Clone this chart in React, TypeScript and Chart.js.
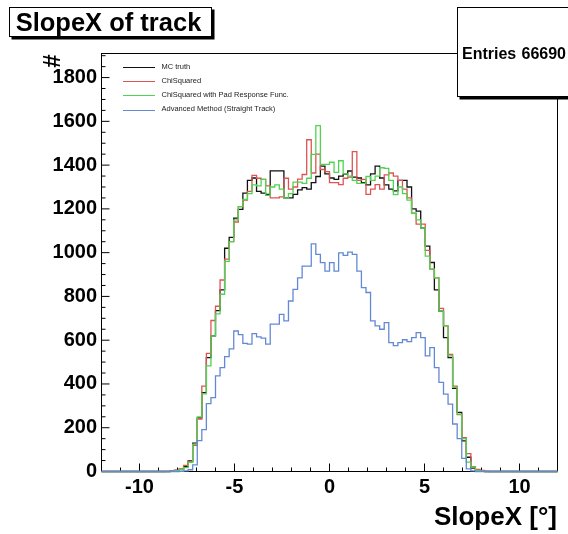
import React, { useEffect, useRef } from 'react';
import { Chart, registerables } from 'chart.js';

Chart.register(...registerables);

// ---- histogram definition ----
const X_MIN = -12;
const X_MAX = 12;
const N_BINS = 100;
const BIN_W = (X_MAX - X_MIN) / N_BINS;
const Y_MAX = 1910;
const FIRST_BIN = 14; // bin index of the first value in each series below

// ---- series values (bins 14 .. 84) ----
const mcTruth = [
  0, 2, 5, 10, 22, 48, 130, 245, 360, 520, 620, 735, 830, 1020, 1070, 1158, 1198, 1272, 1330, 1341,
  1280, 1272, 1266, 1374, 1374, 1374, 1250, 1250, 1266, 1287, 1297, 1290, 1320, 1348, 1395, 1360, 1341,
  1335, 1350, 1359, 1373, 1345, 1341, 1320, 1310, 1360, 1395, 1341, 1310, 1290, 1282, 1330, 1330, 1300,
  1200, 1190, 1113, 1030, 955, 830, 733, 612, 520, 380, 270, 140, 65, 15, 5, 1, 0,
];
const chiSquared = [
  1, 3, 6, 12, 28, 45, 120, 240, 390, 540, 690, 755, 875, 970, 1050, 1140, 1210, 1240, 1280, 1353,
  1340, 1335, 1305, 1250, 1250, 1255, 1340, 1290, 1300, 1336, 1357, 1516, 1364, 1450, 1380, 1370, 1320,
  1320, 1311, 1340, 1345, 1462, 1330, 1335, 1266, 1290, 1311, 1290, 1355, 1364, 1350, 1330, 1290, 1250,
  1180, 1130, 1130, 1010, 925, 885, 745, 665, 535, 390, 260, 155, 82, 22, 10, 5, 2,
];
const chiSquaredPRF = [
  0, 1, 4, 8, 18, 42, 125, 250, 355, 483, 620, 720, 810, 960, 1050, 1150, 1210, 1243, 1270, 1310,
  1305, 1335, 1262, 1300, 1310, 1290, 1250, 1270, 1322, 1322, 1317, 1340, 1449, 1580, 1403, 1403, 1413,
  1367, 1420, 1360, 1350, 1330, 1317, 1317, 1348, 1330, 1350, 1388, 1385, 1330, 1265, 1300, 1270, 1240,
  1180, 1150, 1113, 984, 925, 885, 733, 665, 528, 384, 262, 150, 43, 20, 5, 2, 0,
];
const advancedMethod = [
  0, 0, 0, 1, 3, 8, 30, 141, 191, 310, 338, 437, 475, 525, 560, 642, 625, 585, 582, 630,
  615, 609, 582, 673, 673, 718, 688, 779, 832, 885, 938, 938, 1040, 992, 954, 916, 954,
  916, 999, 988, 1002, 992, 916, 840, 818, 688, 665, 650, 680, 589, 575, 589, 602, 593,
  612, 635, 612, 528, 566, 475, 407, 354, 308, 217, 150, 60, 12, 3, 0, 0, 0,
];

const seriesNames = [
  'MC truth',
  'ChiSquared',
  'ChiSquared with Pad Response Func.',
  'Advanced Method (Straight Track)',
];
const seriesValues = [mcTruth, chiSquared, chiSquaredPRF, advancedMethod];
const seriesColors = ['#111111', '#dd5454', '#50d450', '#6489d4'];

const xMajorTicks = [-10, -5, 0, 5, 10];
const yMajorTicks = [0, 200, 400, 600, 800, 1000, 1200, 1400, 1600, 1800];
const X_MINOR_STEP = 1;
const Y_MINOR_STEP = 50;

const TITLE = 'SlopeX of track';
const X_TITLE = 'SlopeX [°]';
const Y_TITLE = '#';
const ENTRIES = 66690;

const FONT = '"Liberation Sans", Arial, Helvetica, sans-serif';

function toSteps(vals: number[]) {
  const pts: { x: number; y: number }[] = [];
  for (let k = 0; k < N_BINS; k++) {
    const i = k - FIRST_BIN;
    const v = i >= 0 && i < vals.length ? vals[i] : 0;
    pts.push({ x: X_MIN + k * BIN_W, y: v });
  }
  pts.push({ x: X_MAX, y: pts[pts.length - 1].y });
  return pts;
}

const frameTicks = {
  id: 'frameTicks',
  beforeDatasetsDraw(chart: any) {
    const { ctx, chartArea: a, scales } = chart;
    const x = scales.x;
    const y = scales.y;
    ctx.save();
    ctx.strokeStyle = '#000';
    ctx.lineWidth = 1;
    ctx.strokeRect(a.left, a.top, a.right - a.left, a.bottom - a.top);
    ctx.beginPath();
    for (let v = X_MIN + X_MINOR_STEP; v < X_MAX; v += X_MINOR_STEP) {
      const px = x.getPixelForValue(v);
      const len = xMajorTicks.includes(v) ? 8 : 4;
      ctx.moveTo(px, a.bottom);
      ctx.lineTo(px, a.bottom - len);
    }
    for (let v = Y_MINOR_STEP; v < Y_MAX; v += Y_MINOR_STEP) {
      const py = y.getPixelForValue(v);
      const len = yMajorTicks.includes(v) ? 8 : 4;
      ctx.moveTo(a.left, py);
      ctx.lineTo(a.left + len, py);
    }
    ctx.stroke();
    ctx.restore();
  },
};

const AREA_LEFT = 101.5;
const AREA_TOP = 53.5;
const AREA_RIGHT = 557.5;
const AREA_BOTTOM = 471.5;
const W = 568;
const H = 534;

export default function App() {
  const ref = useRef<HTMLCanvasElement | null>(null);

  useEffect(() => {
    if (!ref.current) return;
    const order = [4, 3, 2, 1];
    const chart = new Chart(ref.current, {
      type: 'line',
      data: {
        datasets: seriesValues.map((vals, i) => ({
          label: seriesNames[i],
          data: toSteps(vals),
          borderColor: seriesColors[i],
          backgroundColor: seriesColors[i],
          borderWidth: 1.3,
          pointRadius: 0,
          pointHoverRadius: 0,
          stepped: true,
          fill: false,
          tension: 0,
          clip: false as any,
          order: order[i],
        })),
      },
      options: {
        responsive: false,
        animation: false,
        events: [],
        parsing: false,
        layout: {
          padding: { left: 0, top: AREA_TOP, right: W - AREA_RIGHT, bottom: 0 },
        },
        plugins: {
          legend: { display: false },
          tooltip: { enabled: false },
          title: { display: false },
        },
        scales: {
          x: {
            type: 'linear',
            min: X_MIN,
            max: X_MAX,
            grid: { display: false, drawTicks: false },
            border: { display: false },
            afterFit: (s: any) => {
              s.height = H - AREA_BOTTOM;
            },
            afterBuildTicks: (s: any) => {
              s.ticks = xMajorTicks.map((v) => ({ value: v }));
            },
            ticks: {
              autoSkip: false,
              maxRotation: 0,
              padding: 4,
              color: '#000',
              callback: (v: any) => String(v),
              font: { family: FONT, size: 20, weight: 'bold' },
            },
          },
          y: {
            type: 'linear',
            min: 0,
            max: Y_MAX,
            grid: { display: false, drawTicks: false },
            border: { display: false },
            afterFit: (s: any) => {
              s.width = AREA_LEFT;
            },
            afterBuildTicks: (s: any) => {
              s.ticks = yMajorTicks.map((v) => ({ value: v }));
            },
            ticks: {
              autoSkip: false,
              padding: 4.5,
              color: '#000',
              callback: (v: any) => String(v),
              font: { family: FONT, size: 20, weight: 'bold' },
            },
          },
        },
      },
      plugins: [frameTicks],
    } as any);
    return () => chart.destroy();
  }, []);

  const legendY0 = 67.3;
  const legendDy = 14.3;

  return (
    <div
      style={{
        position: 'absolute',
        left: 0,
        top: 0,
        width: W,
        height: H,
        overflow: 'hidden',
        background: '#fff',
        fontFamily: FONT,
        color: '#000',
      }}
    >
      <canvas ref={ref} width={W} height={H} style={{ position: 'absolute', left: 0, top: 0, width: W, height: H }} />

      {/* title box */}
      <div
        style={{
          position: 'absolute',
          left: 8.7,
          top: 7.3,
          width: 203.6,
          height: 29.4,
          boxSizing: 'border-box',
          border: '1px solid #000',
          background: '#fff',
          boxShadow: '2.5px 2.5px 0 #000',
        }}
      >
        <span
          style={{
            position: 'absolute',
            left: 6,
            top: 1.5,
            fontSize: 25.5,
            lineHeight: '25px',
            fontWeight: 'bold',
            whiteSpace: 'nowrap',
          }}
        >
          {TITLE}
        </span>
      </div>

      {/* stats box */}
      <div
        style={{
          position: 'absolute',
          left: 456.7,
          top: 6.7,
          width: 140,
          height: 90.5,
          boxSizing: 'border-box',
          border: '1px solid #000',
          background: '#fff',
          boxShadow: '2.5px 2.5px 0 #000',
        }}
      />
      <span
        style={{
          position: 'absolute',
          left: 462,
          top: 45.5,
          fontSize: 16,
          lineHeight: '16px',
          fontWeight: 'bold',
          whiteSpace: 'nowrap',
        }}
      >
        Entries
      </span>
      <span
        style={{
          position: 'absolute',
          right: W - 566,
          top: 45.5,
          fontSize: 16,
          lineHeight: '16px',
          fontWeight: 'bold',
          whiteSpace: 'nowrap',
        }}
      >
        {String(ENTRIES)}
      </span>

      {/* legend */}
      {seriesNames.map((name, i) => {
        const y = legendY0 + i * legendDy;
        return (
          <React.Fragment key={name}>
            <div
              style={{
                position: 'absolute',
                left: 123,
                top: y - 0.65,
                width: 32,
                height: 0,
                borderTop: `1.3px solid ${seriesColors[i]}`,
              }}
            />
            <span
              style={{
                position: 'absolute',
                left: 161.5,
                top: y - 5.8,
                fontSize: 7.5,
                lineHeight: '9px',
                color: '#222',
                whiteSpace: 'nowrap',
              }}
            >
              {name}
            </span>
          </React.Fragment>
        );
      })}

      {/* y axis title */}
      <span
        style={{
          position: 'absolute',
          left: 52,
          top: 61,
          fontSize: 24,
          lineHeight: '24px',
          fontWeight: 'bold',
          transform: 'translate(-50%, -50%) rotate(-90deg)',
          whiteSpace: 'nowrap',
        }}
      >
        {Y_TITLE}
      </span>

      {/* x axis title */}
      <span
        style={{
          position: 'absolute',
          right: W - 557,
          top: 503,
          fontSize: 26,
          lineHeight: '26px',
          fontWeight: 'bold',
          whiteSpace: 'nowrap',
        }}
      >
        {X_TITLE}
      </span>
    </div>
  );
}
